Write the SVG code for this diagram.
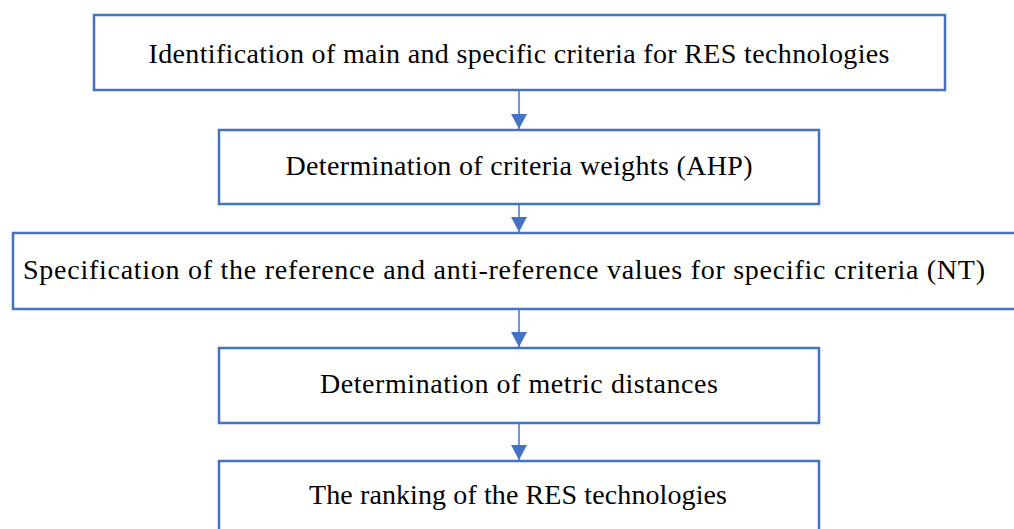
<svg xmlns="http://www.w3.org/2000/svg" width="1014" height="529" viewBox="0 0 1014 529">
<defs>
<style>
.box{fill:#FFFFFF;stroke:#4472C4;stroke-width:2.5}
.lbl{font-family:"Liberation Serif","Times New Roman",serif;font-size:28px;fill:#000000;text-anchor:middle}
.conn{stroke:#4472C4;stroke-width:1.5;fill:none}
</style>
<marker id="ah" markerUnits="userSpaceOnUse" markerWidth="16" markerHeight="16" viewBox="0 0 16 16" refX="15" refY="8" orient="auto">
<path d="M0,0 L15,8 L0,16 Z" fill="#4472C4"/>
</marker>
</defs>
<rect width="1014" height="529" fill="#FFFFFF"/>
<g id="n1"><rect class="box" x="94" y="15" width="851" height="75"/><text class="lbl" x="519" y="63" textLength="741">Identification of main and specific criteria for RES technologies</text></g>
<g id="n2"><rect class="box" x="219" y="130" width="600" height="74"/><text class="lbl" x="519" y="175" textLength="467">Determination of criteria weights (AHP)</text></g>
<g id="n3"><rect class="box" x="13" y="233" width="1012" height="76"/><text class="lbl" x="504" y="279" textLength="962">Specification of the reference and anti-reference values for specific criteria (NT)</text></g>
<g id="n4"><rect class="box" x="219" y="348" width="600" height="75"/><text class="lbl" x="519" y="393" textLength="398">Determination of metric distances</text></g>
<g id="n5"><rect class="box" x="219" y="461" width="600" height="80"/><text class="lbl" x="518" y="504" textLength="418">The ranking of the RES technologies</text></g>
<g id="connectors">
<line class="conn" x1="519" y1="91" x2="519" y2="129" marker-end="url(#ah)"/>
<line class="conn" x1="519" y1="205" x2="519" y2="232" marker-end="url(#ah)"/>
<line class="conn" x1="519" y1="310" x2="519" y2="347" marker-end="url(#ah)"/>
<line class="conn" x1="519" y1="424" x2="519" y2="460" marker-end="url(#ah)"/>
</g>
</svg>
